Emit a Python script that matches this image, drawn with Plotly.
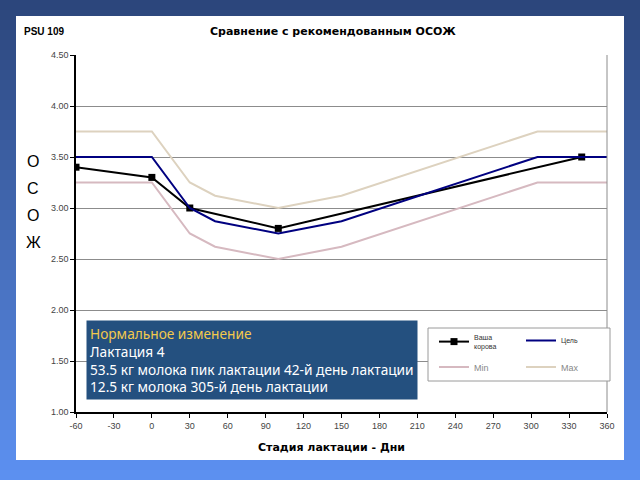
import plotly.graph_objects as go

# ── данные ──
cow_days = [-60, 0, 30, 100, 340]
cow_osozh = [3.40, 3.30, 3.00, 2.80, 3.50]

goal_days = [-60, 0, 30, 50, 100, 150, 305, 360]
goal_osozh = [3.50, 3.50, 3.00, 2.87, 2.75, 2.87, 3.50, 3.50]
min_osozh = [3.25, 3.25, 2.75, 2.62, 2.50, 2.62, 3.25, 3.25]
max_osozh = [3.75, 3.75, 3.25, 3.12, 3.00, 3.12, 3.75, 3.75]

x_ticks = list(range(-60, 361, 30))
y_ticks = [1.0, 1.5, 2.0, 2.5, 3.0, 3.5, 4.0, 4.5]

info_lines = [
    "Лактация 4",
    "53.5 кг молока пик лактации 42-й день лактации",
    "12.5 кг молока 305-й день лактации",
]

W, H = 640, 480
L, R, T, B = 76, 33, 55, 68
PW, PH = W - L - R, H - T - B


def px(x):
    return (x - L) / PW


def py(y):
    return (H - B - y) / PH


fig = go.Figure()
fig.add_trace(go.Scatter(
    x=cow_days, y=cow_osozh, name="Ваша<br>корова", mode="lines+markers", legend="legend",
    line=dict(color="#000000", width=2), marker=dict(symbol="square", size=7, color="#000000"),
))
fig.add_trace(go.Scatter(
    x=goal_days, y=goal_osozh, name="Цель", mode="lines", legend="legend",
    line=dict(color="#000080", width=2),
))
fig.add_trace(go.Scatter(
    x=goal_days, y=min_osozh, name="Min", mode="lines", legend="legend2",
    line=dict(color="#d6b9c0", width=2),
))
fig.add_trace(go.Scatter(
    x=goal_days, y=max_osozh, name="Max", mode="lines", legend="legend2",
    line=dict(color="#ddd2bf", width=2),
))

# фон: вертикальный градиент + белая панель
shapes = []
n = 48
top, bot = (0x2c, 0x46, 0x7c), (0x5c, 0x90, 0xf0)
for i in range(n):
    t = i / (n - 1)
    c = tuple(round(a + (b - a) * t) for a, b in zip(top, bot))
    y0 = i * H / n
    shapes.append(dict(
        type="rect", xref="paper", yref="paper", layer="below",
        x0=px(0), x1=px(W), y0=py(y0 + H / n + 1), y1=py(y0),
        fillcolor="rgb(%d,%d,%d)" % c, line=dict(width=0),
    ))
shapes.append(dict(
    type="rect", xref="paper", yref="paper", layer="below",
    x0=px(16), x1=px(624), y0=py(460), y1=py(16),
    fillcolor="#ffffff", line=dict(width=0),
))
shapes.append(dict(type="line", xref="paper", yref="paper", x0=1, x1=1, y0=0, y1=1,
                   line=dict(color="#8c8c8c", width=1)))
# рамка легенды
shapes.append(dict(
    type="rect", xref="paper", yref="paper", layer="above",
    x0=px(428), x1=px(610), y0=py(381), y1=py(328),
    fillcolor="#ffffff", line=dict(color="#9a9a9a", width=1),
))

annotations = [
    dict(text="<b>Сравнение с рекомендованным ОСОЖ</b>", x=px(333), y=py(31),
         xanchor="center", yanchor="middle",
         xref="paper", yref="paper", showarrow=False,
         font=dict(family="DejaVu Sans", size=11, color="#000000")),
    dict(text="<b>PSU 109</b>", x=px(22), y=py(31), xanchor="left", yanchor="middle",
         xref="paper", yref="paper", showarrow=False,
         font=dict(family="Liberation Sans", size=10, color="#000000")),
    dict(text="<b>Стадия лактации - Дни</b>", x=px(331), y=py(447),
         xanchor="center", yanchor="middle",
         xref="paper", yref="paper", showarrow=False,
         font=dict(family="DejaVu Sans", size=11, color="#000000")),
    dict(text="<span style='color:#f2c94c'>Нормальное изменение</span><br>" + "<br>".join(info_lines),
         x=px(86), y=py(320), xanchor="left", yanchor="top", align="left",
         xref="paper", yref="paper", showarrow=False, bgcolor="#24507f", borderpad=3,
         font=dict(family="Noto Sans", size=13.7, color="#ffffff")),
]
for i, ch in enumerate("ОСОЖ"):
    annotations.append(dict(
        text=ch, x=px(33), y=py(161 + i * 27), xanchor="center", yanchor="middle",
        xref="paper", yref="paper", showarrow=False,
        font=dict(family="Liberation Sans", size=16, color="#000000"),
    ))

legend_style = dict(
    xanchor="left", yanchor="middle", orientation="h",
    entrywidth=42, itemwidth=30, bgcolor="rgba(0,0,0,0)", borderwidth=0,
    font=dict(family="Liberation Sans", size=7, color="#333333"),
)

fig.update_layout(
    width=W, height=H,
    margin=dict(l=L, r=R, t=T, b=B),
    paper_bgcolor="#4a6fc0", plot_bgcolor="rgba(0,0,0,0)",
    font=dict(family="Liberation Sans Narrow, Liberation Sans", size=9, color="#444444"),
    showlegend=True,
    legend=dict(x=px(434), y=py(342), **legend_style),
    legend2=dict(x=px(434), y=py(367), **{**legend_style, "font": dict(family="Liberation Sans", size=9, color="#888888")}),
    xaxis=dict(
        range=[-60, 360], tickvals=x_ticks, ticktext=[str(v) for v in x_ticks],
        ticks="outside", ticklen=4,
        tickcolor="#000000", showline=True, linecolor="#000000", linewidth=1.5,
        showgrid=False, zeroline=False, mirror=False,
    ),
    yaxis=dict(
        range=[1.0, 4.5], tickvals=y_ticks, tickformat=".2f", ticks="outside", ticklen=4,
        tickcolor="#000000", showline=True, linecolor="#000000", linewidth=1.5,
        showgrid=True, gridcolor="#8c8c8c", gridwidth=1, zeroline=False,
    ),
    shapes=shapes,
    annotations=annotations,
)

fig.write_html("out.html", config={"displayModeBar": False},
               post_script="document.body.style.margin='0px';")
